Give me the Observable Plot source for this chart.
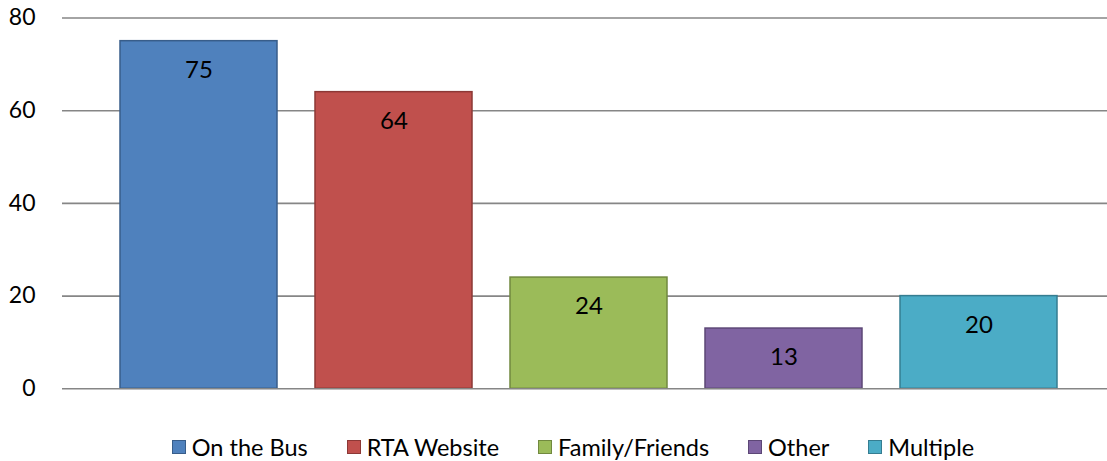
<!DOCTYPE html>
<html>
<head>
<meta charset="utf-8">
<script src="https://cdn.jsdelivr.net/npm/d3@7"></script>
<script src="https://cdn.jsdelivr.net/npm/@observablehq/plot@0.6"></script>
<style>
  html, body { margin: 0; padding: 0; background: #fff; }
  #wrap { position: relative; width: 1107px; height: 461px; font-family: Lato, "Open Sans", sans-serif; }
  #legend { position: absolute; left: 0; top: 434px; width: 1107px; box-sizing: border-box; padding-left: 39px;
            display: flex; justify-content: center; align-items: center; font-size: 23.5px; color: #000; line-height: 26px; }
  .item { display: flex; align-items: center; margin: 0 19.5px; }
  .sw { width: 12px; height: 12px; border: 1.5px solid; margin-right: 6px; }
</style>
</head>
<body>
<div id="wrap"><div id="chart"></div><div id="legend"></div></div>
<script>
const categories = ["On the Bus", "RTA Website", "Family/Friends", "Other", "Multiple"];
const values = [75, 64, 24, 13, 20];
const fills = ["#4F81BD", "#C0504D", "#9BBB59", "#8064A2", "#4BACC6"];
const strokes = ["#385D8A", "#8C3836", "#71893F", "#5C4776", "#357D91"];
const yTicks = [0, 20, 40, 60, 80];

const data = categories.map((c, i) => ({cat: c, value: values[i], fill: fills[i], stroke: strokes[i]}));

const chart = Plot.plot({
  width: 1107,
  height: 405,
  marginLeft: 62,
  marginRight: 0,
  marginTop: 17.5,
  marginBottom: 16.7,
  style: {fontFamily: "Lato, 'Open Sans', sans-serif", background: "#fff", color: "#000"},
  x: {domain: categories, range: [62, 1115], paddingInner: 0.195, paddingOuter: 0.2975, axis: null},
  y: {domain: [0, 80], axis: null},
  color: {type: "identity"},
  marks: [
    Plot.ruleY(yTicks.filter(t => t !== 0), {stroke: "#868686", strokeWidth: 1.6}),
    Plot.barY(data, {x: "cat", y: "value", fill: d => d.fill, stroke: d => d.stroke, strokeWidth: 1.5}),
    Plot.ruleY([0], {stroke: "#868686", strokeWidth: 1.6}),
    Plot.axisY({ticks: yTicks, tickSize: 0, tickPadding: 27, fontSize: 23, tickFormat: d => String(d), fill: "#000", label: null}),
    Plot.text(data, {x: "cat", y: "value", text: d => String(d.value), dy: 29, fontSize: 24, fill: "#000"})
  ]
});
document.getElementById("chart").appendChild(chart);

const legend = document.getElementById("legend");
categories.forEach((c, i) => {
  const it = document.createElement("div");
  it.className = "item";
  const sw = document.createElement("div");
  sw.className = "sw";
  sw.style.background = fills[i];
  sw.style.borderColor = strokes[i];
  const lab = document.createElement("span");
  lab.textContent = c;
  it.appendChild(sw); it.appendChild(lab);
  legend.appendChild(it);
});
</script>
</body>
</html>
